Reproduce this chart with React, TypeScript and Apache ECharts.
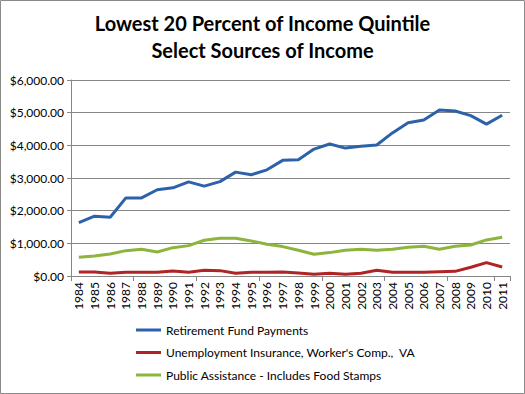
import React, { useEffect, useRef } from "react";
import * as echarts from "echarts";

const years = ["1984","1985","1986","1987","1988","1989","1990","1991","1992","1993","1994","1995","1996","1997","1998","1999","2000","2001","2002","2003","2004","2005","2006","2007","2008","2009","2010","2011"];
const retirement = [1635,1830,1800,2390,2390,2640,2700,2880,2750,2890,3180,3100,3250,3540,3560,3885,4040,3915,3970,4010,4380,4690,4775,5080,5050,4910,4650,4920];
const unemployment = [123,123,82,113,113,113,153,113,174,164,82,113,113,123,92,51,82,51,82,174,113,113,113,133,143,266,409,276];
const publicAssistance = [573,613,675,776,818,736,868,930,1095,1156,1156,1074,972,900,788,665,716,788,818,788,818,880,910,818,910,950,1105,1187];
const yTicks = { min: 0, max: 6000, interval: 1000 };
const titleLines = ["Lowest 20 Percent of Income Quintile", "Select Sources of Income"];
const seriesNames = ["Retirement Fund Payments", "Unemployment Insurance, Worker's Comp.,  VA", "Public Assistance - Includes Food Stamps"];

const FONT = "Lato, 'Open Sans', sans-serif";

export default function App() {
  const ref = useRef<HTMLDivElement>(null);
  useEffect(() => {
    document.body.style.margin = "0";
    const chart = echarts.init(ref.current!, null, { renderer: "svg" });
    const colors = ["#2C62AA", "#B02426", "#8DB43C"];
    const values = [retirement, unemployment, publicAssistance];
    chart.setOption({
      animation: false,
      backgroundColor: "#ffffff",
      title: {
        text: titleLines.join("\n"),
        left: "center",
        top: 4,
        textStyle: { fontFamily: FONT, fontSize: 20, fontWeight: "bold", color: "#000", lineHeight: 27 },
      },
      graphic: [
        { type: "rect", shape: { x: 0.5, y: 0.5, width: 524, height: 393 }, style: { fill: "none", stroke: "#8a8a8a", lineWidth: 1 }, silent: true },
      ],
      legend: {
        orient: "vertical",
        left: 131,
        top: 318,
        itemWidth: 25,
        itemHeight: 3,
        itemGap: 8.5,
        icon: "rect",
        textStyle: { fontFamily: FONT, fontSize: 12, color: "#000", lineHeight: 14 },
        data: seriesNames,
      },
      grid: { left: 71, right: 15, top: 80, bottom: 118, containLabel: false },
      xAxis: {
        type: "category",
        data: years,
        boundaryGap: true,
        axisLine: { lineStyle: { color: "#868686", width: 1 } },
        axisTick: { show: true, interval: 3, length: 5, lineStyle: { color: "#868686" } },
        axisLabel: { interval: 0, rotate: 90, fontFamily: FONT, fontSize: 12, color: "#000", margin: 6 },
      },
      yAxis: {
        type: "value",
        min: yTicks.min,
        max: yTicks.max,
        interval: yTicks.interval,
        axisLine: { show: true, lineStyle: { color: "#868686", width: 1 } },
        axisTick: { show: true, length: 4, lineStyle: { color: "#868686" } },
        splitLine: { lineStyle: { color: "#868686", width: 1 } },
        axisLabel: {
          fontFamily: FONT,
          fontSize: 12,
          color: "#000",
          margin: 7,
          formatter: (v: number) => "$" + v.toLocaleString("en-US", { minimumFractionDigits: 2, maximumFractionDigits: 2 }),
        },
      },
      series: seriesNames.map((name, i) => ({
        name,
        type: "line",
        data: values[i],
        showSymbol: false,
        symbol: "none",
        lineStyle: { color: colors[i], width: 3 },
        itemStyle: { color: colors[i] },
      })),
    });
    return () => chart.dispose();
  }, []);
  return <div ref={ref} style={{ width: 525, height: 394 }} />;
}
